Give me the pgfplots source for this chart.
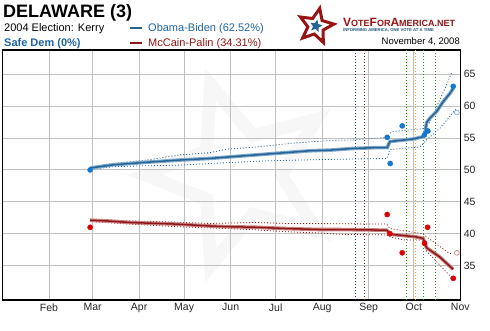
\documentclass[border=0pt]{standalone}
\usepackage{fontspec}
\setmainfont{Liberation Sans}
\usepackage{pgfplots}
\pgfplotsset{compat=1.18}
\usetikzlibrary{shapes.geometric}
\definecolor{obama}{RGB}{38,100,150}
\definecolor{obamahalo}{RGB}{130,170,205}
\definecolor{obamadot}{RGB}{20,120,210}
\definecolor{mccain}{RGB}{140,25,25}
\definecolor{mccainhalo}{RGB}{205,130,130}
\definecolor{mccaindot}{RGB}{220,0,0}
\definecolor{legblue}{RGB}{30,100,160}
\definecolor{legred}{RGB}{150,20,20}
\definecolor{gridgray}{RGB}{192,192,192}
\definecolor{dblue}{RGB}{30,60,110}
\definecolor{dred}{RGB}{160,20,20}
\definecolor{dgreen}{RGB}{30,150,30}
\definecolor{dorange}{RGB}{240,170,30}
\begin{document}
\begin{tikzpicture}[x=1pt,y=1pt]
\path[use as bounding box] (0,0) rectangle (490,330);
% watermark star
\node[star, star points=5, star point ratio=2.3, minimum size=190pt, draw=black!3, line width=13pt, rotate=18, inner sep=0pt] at (240,155) {};
\begin{axis}[
  at={(2.5pt,30pt)}, anchor=south west, scale only axis,
  width=457.8pt, height=250pt,
  xmin=1, xmax=306, ymin=29.6, ymax=68.8,
  axis line style={black, line width=1.4pt},
  xtick={32,61,92,122,153,183,214,245,275,306},
  xticklabels={Feb,Mar,Apr,May,Jun,Jul,Aug,Sep,Oct,Nov},
  ytick={35,40,45,50,55,60,65},
  yticklabel pos=right,
  grid=major,
  major grid style={gridgray, line width=0.8pt},
  major tick length=0pt,
  tick label style={font=\fontsize{10.5}{12}\selectfont, color=black!85},
  /pgf/number format/assume math mode=true,
  clip=true,
]
% event lines
\addplot[dblue, line width=0.8pt, dash pattern=on 1pt off 2pt] coordinates {(236.3,29.6) (236.3,68.8)};
\addplot[dred, line width=0.8pt, dash pattern=on 1pt off 2pt] coordinates {(242.0,29.6) (242.0,68.8)};
\addplot[dgreen, line width=0.8pt, dash pattern=on 1pt off 2pt] coordinates {(270.2,29.6) (270.2,68.8)};
\addplot[dorange, line width=0.8pt, dash pattern=on 1pt off 2pt] coordinates {(276.0,29.6) (276.0,68.8)};
\addplot[dgreen, line width=0.8pt, dash pattern=on 1pt off 2pt] coordinates {(281.3,29.6) (281.3,68.8)};
\addplot[dgreen, line width=0.8pt, dash pattern=on 1pt off 2pt] coordinates {(289.5,29.6) (289.5,68.8)};
% Obama bands
\addplot[obama, line width=0.8pt, dash pattern=on 1pt off 2pt] coordinates {
(60,50.5) (74.7,51.0) (97.1,51.55) (119.3,52.35) (139.3,52.7) (150.4,53.25) (172.6,53.65) (194.6,54.2) (219.2,54.6) (234.5,54.7) (257.1,55.1) (260.3,56.0) (282.4,56.5) (285.7,57.5) (292.3,61.0) (296.3,63.0) (300.3,65.3)};
\addplot[obama, line width=0.8pt, dash pattern=on 1pt off 2pt] coordinates {
(60,50.1) (74.7,50.5) (97.1,50.65) (119.3,50.75) (139.3,51.0) (174.6,51.4) (199.2,51.55) (221.2,51.65) (257.1,51.8) (259.1,53.2) (279.1,53.6) (283.5,54.7) (292.3,56.5) (303,59.5)};
% McCain bands
\addplot[mccain, line width=0.8pt, dash pattern=on 1pt off 2pt] coordinates {
(59.4,42.3) (86,42.0) (117.1,41.8) (139.3,41.6) (169.9,41.75) (190.5,41.6) (203.7,41.6) (256.9,41.5) (259.1,40.8) (281.1,40.0) (283.5,39.5) (297.6,37.1) (300.4,36.8)};
\addplot[mccain, line width=0.8pt, dash pattern=on 1pt off 2pt] coordinates {
(59.4,41.9) (86,41.5) (117.1,41.1) (139.3,40.9) (169.9,40.6) (190.5,40.3) (212.5,40.1) (225.8,39.9) (256.9,39.8) (259.1,39.5) (269.1,39.0) (281.1,39.0) (283.5,37.3) (300.2,33.1)};
% Obama main line
\addplot[obamahalo, line width=3.6pt] coordinates {
(59.4,50.3) (74.7,50.8) (97.1,51.2) (119.3,51.55) (139.3,51.8) (161.3,52.2) (183.7,52.6) (205.9,53.0) (219.2,53.1) (233.6,53.35) (250.3,53.5) (257.3,53.5) (259.1,54.45) (274.6,54.85) (281.3,55.2) (282.4,55.6) (283.5,57.4) (285.7,58.1) (290.2,59.15) (294.6,60.7) (299.1,62.0) (301.3,62.8)};
\addplot[obama, line width=1.5pt] coordinates {
(59.4,50.3) (74.7,50.8) (97.1,51.2) (119.3,51.55) (139.3,51.8) (161.3,52.2) (183.7,52.6) (205.9,53.0) (219.2,53.1) (233.6,53.35) (250.3,53.5) (257.3,53.5) (259.1,54.45) (274.6,54.85) (281.3,55.2) (282.4,55.6) (283.5,57.4) (285.7,58.1) (290.2,59.15) (294.6,60.7) (299.1,62.0) (301.3,62.8)};
% McCain main line
\addplot[mccainhalo, line width=3.6pt] coordinates {
(59.4,42.1) (70.5,42.0) (86,41.75) (117.1,41.5) (139.3,41.2) (150.4,41.1) (170.4,41.0) (190.3,40.8) (212.5,40.65) (225.8,40.65) (256.9,40.55) (259.9,39.9) (276.5,39.5) (281.3,39.25) (283.5,37.8) (292.3,36.35) (301.3,34.4)};
\addplot[mccain, line width=1.5pt] coordinates {
(59.4,42.1) (70.5,42.0) (86,41.75) (117.1,41.5) (139.3,41.2) (150.4,41.1) (170.4,41.0) (190.3,40.8) (212.5,40.65) (225.8,40.65) (256.9,40.55) (259.9,39.9) (276.5,39.5) (281.3,39.25) (283.5,37.8) (292.3,36.35) (301.3,34.4)};
% poll dots
\addplot[only marks, mark=*, mark size=2.6pt, color=obamadot] coordinates {
(59.4,50.0) (257.3,55.1) (267.3,56.9) (259.3,51.0) (284.4,56.1) (282.1,55.5) (301.3,63.1)};
\addplot[only marks, mark=*, mark size=2.6pt, color=mccaindot] coordinates {
(59.4,41.0) (257.3,43.0) (259.1,40.0) (267.3,37.0) (284.2,41.0) (282.2,38.5) (301.3,33.0)};
\addplot[only marks, mark=o, mark size=2.4pt, color=obamahalo, mark options={fill=white, line width=0.7pt}] coordinates {(303.7,59.0)};
\addplot[only marks, mark=o, mark size=2.4pt, color=mccainhalo, mark options={fill=white, line width=0.7pt}] coordinates {(303.7,37.0)};
\end{axis}
% header texts
\node[anchor=base west, inner sep=0pt] at (3,312.7) {\fontsize{18}{18}\selectfont\bfseries DELAWARE (3)};
\node[anchor=base west, inner sep=0pt] at (4,298.3) {\fontsize{11}{12}\selectfont 2004 Election: Kerry};
\node[anchor=base west, inner sep=0pt, text=legblue] at (4,283.5) {\fontsize{11}{12}\selectfont\bfseries Safe Dem (0\%)};
\draw[obama, line width=2.5pt] (130,302) -- (142,302);
\node[anchor=base west, inner sep=0pt, text=legblue] at (148,298.3) {\fontsize{11}{12}\selectfont Obama-Biden (62.52\%)};
\draw[mccain, line width=2.5pt] (130,287) -- (142,287);
\node[anchor=base west, inner sep=0pt, text=legred] at (148,283.5) {\fontsize{11}{12}\selectfont McCain-Palin (34.31\%)};
% logo
\node[star, star points=5, star point ratio=2.2, minimum size=36pt, draw=legred, line width=3pt, rotate=-12, inner sep=0pt] at (316,304) {};
\node[star, star points=5, star point ratio=2.2, minimum size=13pt, fill=obama, rotate=-12, inner sep=0pt] at (316,304) {};
\node[anchor=base west, inner sep=0pt, text=legred] at (343,303) {\bfseries\fontsize{12}{12}\selectfont V\fontsize{9}{9}\selectfont OTE\fontsize{12}{12}\selectfont F\fontsize{9}{9}\selectfont OR\fontsize{12}{12}\selectfont A\fontsize{9}{9}\selectfont MERICA.NET};
\node[anchor=base west, inner sep=0pt, text=obama!80!black] at (343,298.3) {\bfseries\fontsize{4.2}{5}\selectfont INFORMING AMERICA, ONE VOTE AT A TIME};
\node[anchor=base east, inner sep=0pt] at (460,285) {\fontsize{9.5}{11}\selectfont November 4, 2008};
\end{tikzpicture}
\end{document}
